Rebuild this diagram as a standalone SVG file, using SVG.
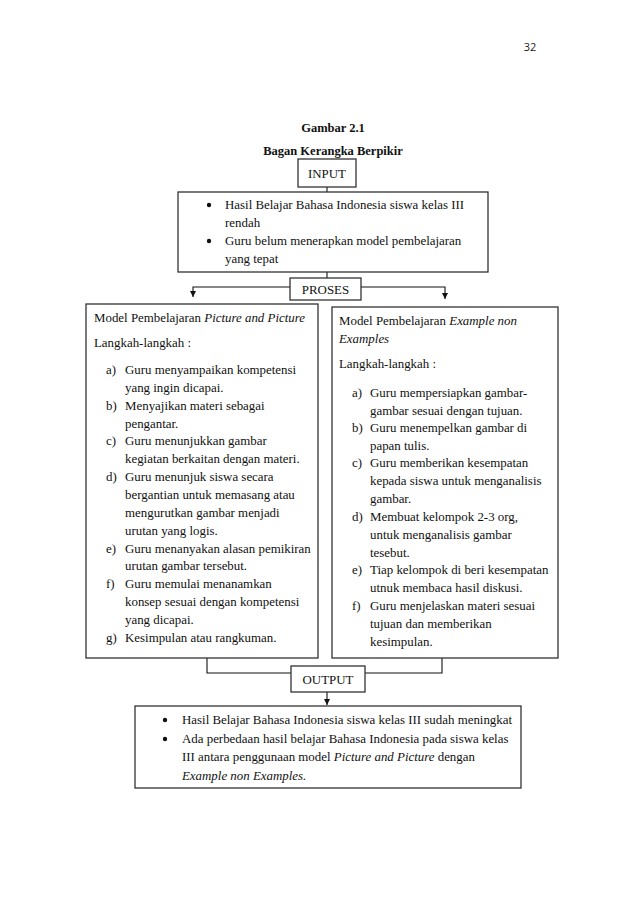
<svg xmlns="http://www.w3.org/2000/svg" width="638" height="903" viewBox="0 0 638 903">
<defs>
<marker id="ah" viewBox="0 0 10 10" refX="10" refY="5" markerWidth="6" markerHeight="6" markerUnits="userSpaceOnUse" orient="auto">
<path d="M0,0 L10,5 L0,10 z" fill="#111"/>
</marker>
<style>
.t{font-family:"Liberation Serif","Times New Roman",serif;font-size:12.9px;fill:#111}
.b{font-weight:bold;font-size:12.5px}
.i{font-style:italic}
.box{fill:#fff;stroke:#333;stroke-width:1.3}
.ln{fill:none;stroke:#111;stroke-width:1.1}
.dot{fill:#111}
.pg{font-family:"Open Sans","Liberation Sans",sans-serif;font-size:11px;fill:#222}
</style>
</defs>
<rect width="638" height="903" fill="#fff"/>
<text class="pg" x="530" y="51" text-anchor="middle">32</text>
<text class="t b" x="333" y="132" text-anchor="middle">Gambar 2.1</text>
<text class="t b" x="333" y="155" text-anchor="middle">Bagan Kerangka Berpikir</text>

<g id="connectors">
<line class="ln" x1="327" y1="187" x2="327" y2="192"/>
<line class="ln" x1="327" y1="272" x2="327" y2="278"/>
<polyline class="ln" points="290,287 193,287 193,297" marker-end="url(#ah)"/>
<polyline class="ln" points="361,287 445,287 445,299" marker-end="url(#ah)"/>
<polyline class="ln" points="207,658 207,673 291,673"/>
<polyline class="ln" points="442,658 442,673 365,673"/>
<line class="ln" x1="327" y1="692" x2="327" y2="705" marker-end="url(#ah)"/>
</g>

<g id="input">
<rect class="box" x="298" y="159" width="58" height="28"/>
<text class="t" x="327" y="178" text-anchor="middle">INPUT</text>
</g>

<g id="input-content">
<rect class="box" x="178" y="192" width="310" height="80"/>
<circle class="dot" cx="209" cy="205" r="2.2"/>
<text class="t" x="225" y="209">Hasil Belajar Bahasa Indonesia siswa kelas III</text>
<text class="t" x="225" y="227">rendah</text>
<circle class="dot" cx="209" cy="241" r="2.2"/>
<text class="t" x="225" y="245">Guru belum menerapkan model pembelajaran</text>
<text class="t" x="225" y="263">yang tepat</text>
</g>

<g id="proses">
<rect class="box" x="290" y="278" width="71" height="22"/>
<text class="t" x="325.5" y="294" text-anchor="middle">PROSES</text>
</g>

<g id="model-picture">
<rect class="box" x="86" y="304" width="232" height="354"/>
<text class="t" x="94" y="322">Model Pembelajaran <tspan class="i">Picture and Picture</tspan></text>
<text class="t" x="94" y="347">Langkah-langkah :</text>
<text class="t" x="106" y="374">a)</text><text class="t" x="125" y="374">Guru menyampaikan kompetensi</text>
<text class="t" x="125" y="392">yang ingin dicapai.</text>
<text class="t" x="106" y="410">b)</text><text class="t" x="125" y="410">Menyajikan materi sebagai</text>
<text class="t" x="125" y="428">pengantar.</text>
<text class="t" x="106" y="445">c)</text><text class="t" x="125" y="445">Guru menunjukkan gambar</text>
<text class="t" x="125" y="463">kegiatan berkaitan dengan materi.</text>
<text class="t" x="106" y="481">d)</text><text class="t" x="125" y="481">Guru menunjuk siswa secara</text>
<text class="t" x="125" y="499">bergantian untuk memasang atau</text>
<text class="t" x="125" y="517">mengurutkan gambar menjadi</text>
<text class="t" x="125" y="535">urutan yang logis.</text>
<text class="t" x="106" y="553">e)</text><text class="t" x="125" y="553">Guru menanyakan alasan pemikiran</text>
<text class="t" x="125" y="570">urutan gambar tersebut.</text>
<text class="t" x="106" y="588">f)</text><text class="t" x="125" y="588">Guru memulai menanamkan</text>
<text class="t" x="125" y="606">konsep sesuai dengan kompetensi</text>
<text class="t" x="125" y="624">yang dicapai.</text>
<text class="t" x="106" y="642">g)</text><text class="t" x="125" y="642">Kesimpulan atau rangkuman.</text>
</g>

<g id="model-example">
<rect class="box" x="332" y="307" width="226" height="351"/>
<text class="t" x="339" y="325">Model Pembelajaran <tspan class="i">Example non</tspan></text>
<text class="t i" x="339" y="343">Examples</text>
<text class="t" x="339" y="368">Langkah-langkah :</text>
<text class="t" x="352" y="397">a)</text><text class="t" x="370" y="397">Guru mempersiapkan gambar-</text>
<text class="t" x="370" y="415">gambar sesuai dengan tujuan.</text>
<text class="t" x="352" y="432">b)</text><text class="t" x="370" y="432">Guru menempelkan gambar di</text>
<text class="t" x="370" y="450">papan tulis.</text>
<text class="t" x="352" y="467">c)</text><text class="t" x="370" y="467">Guru memberikan kesempatan</text>
<text class="t" x="370" y="485">kepada siswa untuk menganalisis</text>
<text class="t" x="370" y="503">gambar.</text>
<text class="t" x="352" y="521">d)</text><text class="t" x="370" y="521">Membuat kelompok 2-3 org,</text>
<text class="t" x="370" y="539">untuk menganalisis gambar</text>
<text class="t" x="370" y="557">tesebut.</text>
<text class="t" x="352" y="574">e)</text><text class="t" x="370" y="574">Tiap kelompok di beri kesempatan</text>
<text class="t" x="370" y="592">utnuk membaca hasil diskusi.</text>
<text class="t" x="352" y="610">f)</text><text class="t" x="370" y="610">Guru menjelaskan materi sesuai</text>
<text class="t" x="370" y="628">tujuan dan memberikan</text>
<text class="t" x="370" y="646">kesimpulan.</text>
</g>

<g id="output">
<rect class="box" x="291" y="666" width="74" height="26"/>
<text class="t" x="328" y="684" text-anchor="middle">OUTPUT</text>
</g>

<g id="output-content">
<rect class="box" x="135" y="706" width="386" height="82"/>
<circle class="dot" cx="165" cy="720" r="2.2"/>
<text class="t" x="182" y="724">Hasil Belajar Bahasa Indonesia siswa kelas III sudah meningkat</text>
<circle class="dot" cx="165" cy="739" r="2.2"/>
<text class="t" x="182" y="743">Ada perbedaan hasil belajar Bahasa Indonesia pada siswa kelas</text>
<text class="t" x="182" y="761">III antara penggunaan model <tspan class="i">Picture and Picture</tspan> dengan</text>
<text class="t i" x="182" y="780">Example non Examples.</text>
</g>
</svg>
